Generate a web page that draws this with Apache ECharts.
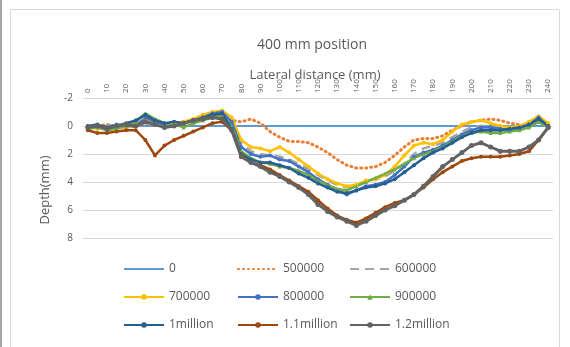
<!DOCTYPE html>
<html><head><meta charset="utf-8">
<script src="https://cdn.jsdelivr.net/npm/echarts@6/dist/echarts.min.js"></script>
<style>html,body{margin:0;padding:0;background:#fff}#c{width:570px;height:347px}</style>
</head><body><div id="c"></div><script>
// Lateral distance (mm) categories
const categories = ['0','5','10','15','20','25','30','35','40','45','50','55','60','65','70','75','80','85','90','95','100','105','110','115','120','125','130','135','140','145','150','155','160','165','170','175','180','185','190','195','200','205','210','215','220','225','230','235','240'];
const seriesNames = ['0','500000','600000','700000','800000','900000','1million','1.1million','1.2million'];
const yTicks = [-2,0,2,4,6,8];

const s0 = [0,0,0,0,0,0,0,0,0,0,0,0,0,0,0,0,0,0,0,0,0,0,0,0,0,0,0,0,0,0,0,0,0,0,0,0,0,0,0,0,0,0,0,0,0,0,0,0,0];
const s500k = [0.1,0.0,-0.1,0.0,0.1,0.0,-0.2,-0.1,0.0,-0.2,-0.3,-0.4,-0.6,-0.8,-0.7,-0.4,
  -0.3,-0.5,-0.2,0.4,0.8,1.1,1.1,1.2,1.5,1.9,2.4,2.8,3.0,3.0,2.9,2.6,2.1,1.5,1.0,0.9,0.9,0.7,0.3,0.0,-0.3,-0.4,-0.5,-0.4,-0.2,-0.1,0.0,-0.3,0.0];
const s600k = [0.0,0.1,0.0,-0.1,0.0,-0.2,-0.4,-0.2,0.0,-0.1,-0.3,-0.5,-0.7,-0.9,-0.8,-0.2,
  1.2,1.8,2.0,2.1,2.2,2.4,2.7,3.1,3.5,3.9,4.2,4.4,4.3,4.0,3.8,3.6,3.2,2.7,2.0,1.6,1.4,1.2,0.8,0.4,0.1,0.0,0.0,0.1,0.2,0.1,-0.2,-0.6,0.0];
const s700k = [0.0,0.2,0.1,0.0,0.1,-0.1,-0.5,-0.3,-0.1,-0.2,-0.3,-0.5,-0.8,-1.0,-1.1,-0.6,
  1.0,1.5,1.6,1.8,1.5,1.9,2.4,2.9,3.4,3.8,4.1,4.3,4.2,3.9,3.8,3.5,2.9,2.1,1.4,1.2,1.3,1.0,0.4,-0.1,-0.3,-0.4,-0.2,0.0,0.1,0.0,-0.3,-0.7,-0.2];
const s800k = [0.1,0.0,0.1,-0.1,0.0,0.0,-0.6,-0.3,-0.1,0.0,-0.2,-0.4,-0.6,-0.9,-1.0,-0.3,
  1.5,2.0,2.2,2.1,2.4,2.5,2.9,3.3,3.8,4.2,4.6,4.9,4.6,4.3,4.2,4.0,3.5,2.9,2.2,1.9,1.7,1.4,1.0,0.6,0.3,0.1,0.1,0.2,0.3,0.2,-0.1,-0.6,0.0];
const s900k = [0.2,0.1,0.3,0.2,0.0,-0.3,-0.9,-0.5,-0.2,-0.1,0.1,-0.2,-0.4,-0.6,-0.8,0.0,
  1.8,2.3,2.6,2.7,2.9,3.0,3.2,3.5,3.9,4.2,4.5,4.6,4.3,4.0,3.7,3.4,3.1,2.7,2.3,2.0,1.8,1.5,1.1,0.7,0.5,0.4,0.5,0.5,0.4,0.3,0.1,-0.3,0.1];
const s1m = [0.0,-0.1,0.1,0.0,-0.2,-0.4,-0.8,-0.4,-0.2,-0.3,-0.2,-0.4,-0.6,-0.8,-0.9,0.2,
  2.0,2.4,2.6,2.6,2.8,3.0,3.4,3.7,4.1,4.4,4.7,4.8,4.6,4.4,4.3,4.1,3.8,3.3,2.8,2.3,1.9,1.6,1.2,0.8,0.5,0.3,0.3,0.3,0.2,0.1,-0.1,-0.5,0.0];
const s11m = [0.3,0.5,0.5,0.4,0.3,0.3,1.0,2.1,1.4,1.0,0.7,0.4,0.1,-0.2,-0.3,0.3,
  2.1,2.6,2.8,3.1,3.5,3.9,4.3,4.7,5.3,5.9,6.4,6.7,6.9,6.6,6.2,5.8,5.5,5.3,4.9,4.4,3.8,3.3,2.9,2.5,2.3,2.2,2.2,2.2,2.1,2.0,1.8,1.0,0.1];
const s12m = [0.1,0.0,0.2,0.0,-0.1,0.0,-0.3,-0.1,0.1,0.0,-0.2,-0.4,-0.5,-0.6,-0.5,0.3,
  2.2,2.6,2.9,3.3,3.6,4.0,4.4,4.9,5.6,6.1,6.5,6.8,7.1,6.8,6.4,6.0,5.7,5.3,4.9,4.3,3.6,2.9,2.4,1.9,1.4,1.2,1.5,1.8,1.8,1.8,1.5,1.0,0.1];

const seriesData = [s0,s500k,s600k,s700k,s800k,s900k,s1m,s11m,s12m];
const colors = ['#5B9BD5','#ED7D31','#A5A5A5','#FFC000','#4472C4','#70AD47','#255E91','#9E480E','#636363'];
const FONT = 'Open Sans';
const TXT = '#595959';

const styles = [
  {w:2, type:'solid', sym:'none'},
  {w:3, type:[1,4], sym:'none', cap:'round'},
  {w:2.5, type:[9,6], sym:'none'},
  {w:2.5, type:'solid', sym:'circle', ss:4},
  {w:2.5, type:'solid', sym:'circle', ss:4},
  {w:2.5, type:'solid', sym:'triangle', ss:4},
  {w:2.5, type:'solid', sym:'circle', ss:4},
  {w:2.5, type:'solid', sym:'circle', ss:4},
  {w:3, type:'solid', sym:'circle', ss:5}
];

const series = seriesNames.map((n,i)=>({
  name:n, type:'line', data:seriesData[i],
  symbol: styles[i].sym, symbolSize: styles[i].ss||4, showSymbol: styles[i].sym!=='none', showAllSymbol:true,
  itemStyle:{color:colors[i]},
  lineStyle:{color:colors[i], width:styles[i].w, type:styles[i].type, cap:styles[i].cap||'butt'},
  emphasis:{disabled:true}, animation:false
}));

const legCols = [123, 237, 349];
const legRows = [263, 291, 319];
const legends = seriesNames.map((n,i)=>{
  const l = {
    data:[n], left: legCols[i%3], top: legRows[Math.floor(i/3)],
    itemWidth:40, itemHeight:7, padding:0, itemGap:0, selectedMode:false,
    textStyle:{color:TXT, fontSize:12, fontFamily:FONT}
  };
  if (styles[i].sym === 'none') l.itemStyle = {opacity:0};
  return l;
});

const chart = echarts.init(document.getElementById('c'), null, {renderer:'canvas'});
chart.setOption({
  animation:false,
  backgroundColor:'#fff',
  color: colors,
  grid:{left:83, right:17, top:98, bottom:109, containLabel:false},
  xAxis:{
    type:'category', data:categories, position:'top', boundaryGap:true,
    axisLine:{show:true, onZero:true, lineStyle:{color:'#d9d9d9'}},
    axisTick:{show:false},
    axisLabel:{interval:1, rotate:90, fontSize:8, color:TXT, fontFamily:FONT, margin:5}
  },
  yAxis:{
    type:'value', inverse:true, min:yTicks[0], max:yTicks[yTicks.length-1], interval:2,
    axisLine:{show:false}, axisTick:{show:false},
    axisLabel:{fontSize:10, color:TXT, fontFamily:FONT, margin:10},
    splitLine:{lineStyle:{color:'#d9d9d9', width:1}}
  },
  legend: legends,
  series: series,
  graphic:[
    {type:'rect', shape:{x:0, y:0, width:2, height:347}, style:{fill:'#a6a6a6'}, silent:true},
    {type:'rect', shape:{x:10.5, y:9.5, width:549, height:345}, style:{fill:'none', stroke:'#d9d9d9', lineWidth:1}, silent:true},
    {type:'text', style:{text:'400 mm position', font:'14px "Open Sans"', fill:TXT, x:312, y:45, align:'center', verticalAlign:'middle'}, silent:true},
    {type:'text', style:{text:'Lateral distance (mm)', font:'13px "Open Sans"', fill:TXT, x:315, y:75, align:'center', verticalAlign:'middle'}, silent:true},
    {type:'text', rotation:Math.PI/2, x:45, y:190, style:{text:'Depth(mm)', font:'13px "Open Sans"', fill:TXT, x:0, y:0, align:'center', verticalAlign:'middle'}, silent:true}
  ]
});
</script></body></html>
